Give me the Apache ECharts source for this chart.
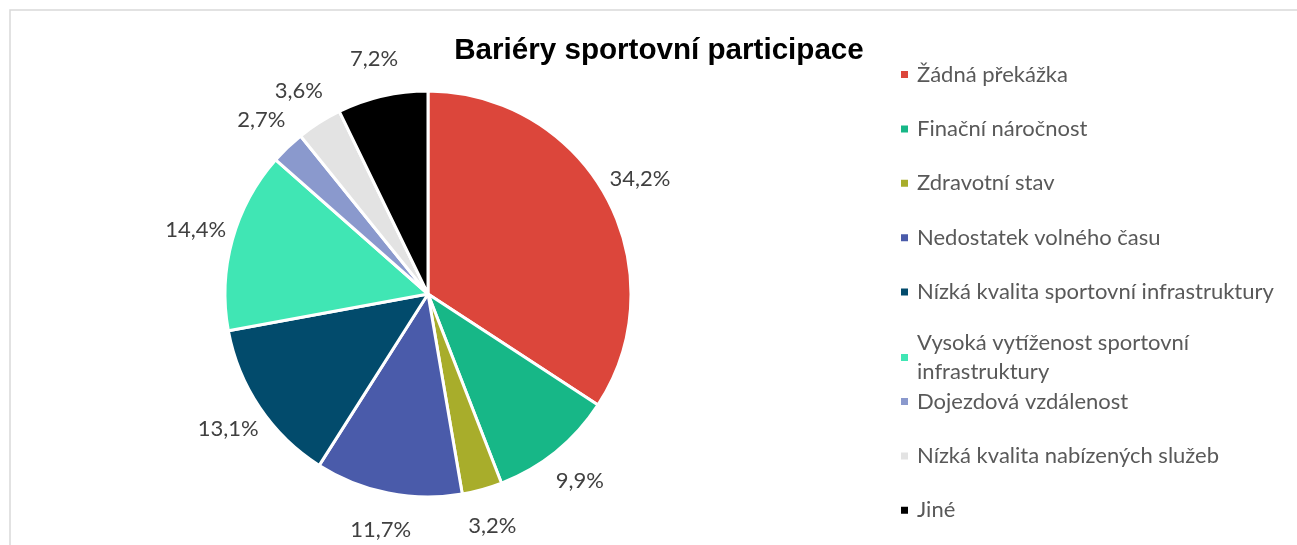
<!DOCTYPE html>
<html lang="cs">
<head>
<meta charset="utf-8">
<title>Bariéry sportovní participace</title>
<script src="https://cdn.jsdelivr.net/npm/echarts@6/dist/echarts.min.js"></script>
<style>
  html, body { margin: 0; padding: 0; background: #ffffff; }
  #chart { width: 1297px; height: 545px; }
</style>
</head>
<body>
<div id="chart"></div>
<script>
// Barriers to sport participation, share of respondents (%)
const categories = [
  'Žádná překážka',
  'Finační náročnost',
  'Zdravotní stav',
  'Nedostatek volného času',
  'Nízká kvalita sportovní infrastruktury',
  'Vysoká vytíženost sportovní infrastruktury',
  'Dojezdová vzdálenost',
  'Nízká kvalita nabízených služeb',
  'Jiné'
];
const shares = [34.2, 9.9, 3.2, 11.7, 13.1, 14.4, 2.7, 3.6, 7.2];
const sliceColors = [
  '#DC463B', '#17B787', '#A8AD2B', '#4A5BAA', '#024B6C',
  '#40E6B4', '#8A99CD', '#E3E3E3', '#000000'
];
const chartTitle = 'Bariéry sportovní participace';

const pieData = categories.map((name, i) => ({
  name: name,
  value: shares[i],
  itemStyle: { color: sliceColors[i] }
}));

const fmtPct = v => v.toFixed(1).replace('.', ',') + '%';

// legend entry text; the long one wraps onto a second line
const legendLabel = name => name === 'Vysoká vytíženost sportovní infrastruktury'
  ? 'Vysoká vytíženost sportovní\ninfrastruktury'
  : name;

const legendBase = {
  orient: 'vertical',
  left: 899,
  padding: 0,
  icon: 'rect',
  itemWidth: 9,
  itemHeight: 9,
  itemGap: 25.4,
  selectedMode: false,
  formatter: legendLabel,
  textStyle: {
    fontFamily: 'Lato, sans-serif',
    fontSize: 22,
    color: '#595959',
    lineHeight: 29,
    height: 29,
    padding: [0, 0, 0, 3]
  }
};

const chart = echarts.init(document.getElementById('chart'), null, { renderer: 'canvas' });

chart.setOption({
  animation: false,
  backgroundColor: '#ffffff',
  title: {
    text: chartTitle,
    left: 654,
    textAlign: 'center',
    top: 31,
    textStyle: {
      fontFamily: 'Liberation Sans, Arial, sans-serif',
      fontSize: 29.6,
      fontWeight: 'bold',
      color: '#000000'
    }
  },
  // two legend blocks: the wrapped entry overlaps the gap below it
  legend: [
    Object.assign({}, legendBase, { top: 60, data: categories.slice(0, 6) }),
    Object.assign({}, legendBase, { top: 387, data: categories.slice(6) })
  ],
  graphic: [{
    type: 'rect',
    silent: true,
    shape: { x: 10, y: 10, width: 1400, height: 600 },
    style: { fill: 'none', stroke: '#d9d9d9', lineWidth: 1.5 }
  }],
  series: [
    {
      // the pie itself
      type: 'pie',
      center: [428, 294],
      radius: [0, 203],
      startAngle: 90,
      clockwise: true,
      avoidLabelOverlap: false,
      silent: true,
      itemStyle: { borderColor: '#ffffff', borderWidth: 3 },
      label: { show: false },
      labelLine: { show: false },
      emphasis: { disabled: true },
      data: pieData
    },
    {
      // invisible ring carrying the percentage labels outside the pie
      type: 'pie',
      center: [428, 294],
      radius: [218, 258],
      startAngle: 90,
      clockwise: true,
      avoidLabelOverlap: false,
      silent: true,
      itemStyle: { color: 'rgba(0,0,0,0)', borderWidth: 0 },
      label: {
        show: true,
        position: 'inside',
        formatter: p => fmtPct(p.value),
        fontFamily: 'Lato, sans-serif',
        fontSize: 22,
        color: '#404040'
      },
      labelLine: { show: false },
      emphasis: { disabled: true },
      data: categories.map((name, i) => ({ name: name, value: shares[i] }))
    }
  ]
});
</script>
</body>
</html>
